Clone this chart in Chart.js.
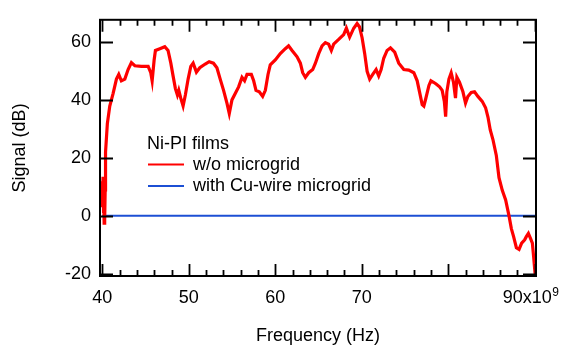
<!DOCTYPE html>
<html>
<head>
<meta charset="utf-8">
<script src="https://cdn.jsdelivr.net/npm/chart.js@4.4.1/dist/chart.umd.min.js"></script>
<style>
  html, body { margin: 0; padding: 0; background: #ffffff; }
  canvas { display: block; }
</style>
</head>
<body>
<canvas id="c" width="565" height="351"></canvas>
<script>
// ---------- data ----------
const freqRed = [39.98, 40.03, 40.08, 40.12, 40.17, 40.21, 40.25, 40.29, 40.33, 40.37,
  40.58, 40.86, 41.24, 41.63, 41.9, 42.2, 42.6, 42.98, 43.36, 43.76,
  44.52, 45.3, 45.6, 45.76, 45.99, 46.14, 46.65, 47.22, 47.6, 47.92,
  48.18, 48.45, 48.68, 48.84, 49.07, 49.34, 49.6, 49.92, 50.23, 50.5,
  50.88, 51.27, 51.9, 52.35, 52.85, 53.25, 53.63, 54.02, 54.41, 54.68,
  54.99, 55.37, 55.76, 56.15, 56.45, 56.73, 57.23, 57.5, 57.77, 58.15,
  58.54, 58.85, 59.16, 59.42, 60.0, 60.58, 61.16, 61.54, 61.94, 62.52,
  62.9, 63.17, 63.48, 63.86, 64.33, 64.64, 65.02, 65.41, 65.79, 66.17,
  66.48, 66.75, 67.33, 67.91, 68.22, 68.6, 69.07, 69.46, 69.73, 70.04,
  70.34, 70.62, 70.92, 71.27, 71.66, 71.96, 72.24, 72.54, 72.93, 73.32,
  73.81, 74.28, 74.86, 75.44, 76.02, 76.41, 76.68, 76.99, 77.18, 77.4,
  77.77, 78.0, 78.3, 78.6, 79.0, 79.3, 79.55, 79.7, 79.84, 80.08,
  80.34, 80.61, 80.84, 81.0, 81.3, 81.7, 82.0, 82.27, 82.66, 83.04,
  83.43, 83.93, 84.32, 84.6, 84.86, 85.17, 85.56, 85.87, 86.25, 86.64,
  87.03, 87.3, 87.56, 87.88, 88.19, 88.49, 88.84, 89.03, 89.27, 89.5,
  89.73, 89.88, 90.04, 90.12];
const sigRed = [12, 3, 13.5, 1, 9, -2.5, 4, -1.5, 9, 22,
  31.9, 38, 42.3, 47.3, 48.9, 46.7, 47.3, 50.6, 53, 51.9,
  51.7, 51.7, 49.5, 46.7, 53.9, 57.2, 57.8, 58.5, 57.2, 52.8,
  48.4, 44, 41.8, 43.4, 40.7, 38, 41.8, 47.3, 51.7, 52.8,
  49.7, 51.2, 52.5, 53.3, 52.8, 51.2, 47.3, 43.4, 39, 35.4,
  40.1, 42.3, 44.6, 47.9, 46.7, 48.9, 48.9, 46.7, 43.4, 42.9,
  41.3, 43.4, 48.9, 52.2, 53.9, 56.1, 57.8, 58.8, 57.2, 55,
  52.8, 49.5, 47.9, 49.5, 50.6, 52.8, 56.1, 58.8, 59.9, 59.4,
  57.2, 59.4, 61, 62.7, 64.9, 61.8, 64.9, 66.5, 65.4, 61.6,
  56.1, 50, 47.3, 48.9, 50.6, 48.4, 50.6, 54.5, 57.2, 58.1,
  56.6, 52.8, 50.6, 50.4, 49.5, 46.7, 42.9, 38.5, 38, 40.5,
  45.1, 46.7, 46.2, 45.6, 44.6, 43.4, 39.6, 34.3, 42.9, 47.3,
  49.5, 46.2, 40.7, 47.9, 46.2, 42.9, 39, 41.3, 42.7, 42.9,
  41.3, 39.6, 37.4, 34.1, 29.7, 26.4, 20.9, 13.2, 8.8, 5.5,
  0, -4.4, -7.2, -11, -11.6, -9.4, -8.3, -7.2, -6.1, -7.7,
  -9.4, -14.3, -19.8, -23];

const freqBlue = [40.0, 45.0, 50.0, 55.0, 60.0, 65.0, 70.0, 75.0, 80.0, 85.0, 90.15];
const sigBlue  = [0, 0, 0, 0, 0, 0, 0, 0, 0, 0, 0];

const seriesNames = ['w/o microgrid', 'with Cu-wire microgrid'];
const legendTitle = 'Ni-PI films';

const xTickVals   = [40, 50, 60, 70, 80, 90];
const xTickLabels = ['40', '50', '60', '70', '', ''];
const xLastLabel  = { value: 90, base: '90x10', sup: '9' };
const yTickVals   = [-20, 0, 20, 40, 60];
const yTickLabels = ['-20', '0', '20', '40', '60'];
const xMinorStep  = 2;

// ---------- styling ----------
const FONT = '"Liberation Sans", Arial, Helvetica, sans-serif';
const fontMain = { family: FONT, size: 18 };
const X_TICK_PAD = 11;
const RED = '#ff0000';
const BLUE = '#1c4fd4';

const toPts = (xs, ys) => xs.map((x, i) => ({ x: x, y: ys[i] }));

const framePlugin = {
  id: 'frameTicks',
  afterDraw(chart) {
    const ctx = chart.ctx;
    const a = chart.chartArea;
    const xs = chart.scales.x, ys = chart.scales.y;
    ctx.save();
    ctx.strokeStyle = '#000';
    // ticks
    ctx.lineWidth = 1.8;
    ctx.beginPath();
    for (let v = 40; v <= 90.001; v += xMinorStep) {
      const px = Math.round(xs.getPixelForValue(v)) + 0.5;
      const major = (Math.round(v) % 10 === 0);
      const len = major ? 12 : 6;
      ctx.moveTo(px, a.bottom); ctx.lineTo(px, a.bottom - len);
      ctx.moveTo(px, a.top); ctx.lineTo(px, a.top + len);
    }
    yTickVals.forEach(v => {
      const py = Math.round(ys.getPixelForValue(v)) + 0.5;
      ctx.moveTo(a.left, py); ctx.lineTo(a.left + 13, py);
      ctx.moveTo(a.right, py); ctx.lineTo(a.right - 13, py);
    });
    ctx.stroke();
    // frame
    ctx.lineWidth = 2;
    ctx.strokeRect(a.left, a.top, a.right - a.left, a.bottom - a.top);

    // last x label with superscript exponent
    const lx = xs.getPixelForValue(xLastLabel.value);
    const ly = a.bottom + X_TICK_PAD + fontMain.size * 1.2 / 2;
    ctx.fillStyle = '#000';
    ctx.font = fontMain.size + 'px ' + FONT;
    ctx.textBaseline = 'middle';
    ctx.textAlign = 'left';
    const w1 = ctx.measureText(xLastLabel.base).width;
    const sx = lx - 32;
    ctx.fillText(xLastLabel.base, sx, ly);
    ctx.font = '12px ' + FONT;
    ctx.textBaseline = 'alphabetic';
    ctx.fillText(xLastLabel.sup, sx + w1 + 0.5, ly - 2);

    // legend
    const ds = chart.data.datasets;
    ctx.font = fontMain.size + 'px ' + FONT;
    ctx.textBaseline = 'middle';
    ctx.textAlign = 'left';
    ctx.fillText(legendTitle, 147, 144);
    const rows = [164.5, 186];
    ds.forEach((d, i) => {
      ctx.strokeStyle = d.borderColor;
      ctx.lineWidth = 2;
      ctx.beginPath();
      ctx.moveTo(148, rows[i]); ctx.lineTo(184, rows[i]);
      ctx.stroke();
      ctx.fillStyle = '#000';
      ctx.fillText(d.label, 193, rows[i] + 0.5);
    });
    ctx.restore();
  }
};

new Chart(document.getElementById('c'), {
  type: 'scatter',
  data: {
    datasets: [
      { label: seriesNames[0], data: toPts(freqRed, sigRed), showLine: true,
        borderColor: RED, backgroundColor: RED, borderWidth: 3.2, pointRadius: 0, tension: 0 },
      { label: seriesNames[1], data: toPts(freqBlue, sigBlue), showLine: true,
        borderColor: BLUE, backgroundColor: BLUE, borderWidth: 2, pointRadius: 0, tension: 0 }
    ]
  },
  options: {
    responsive: false,
    animation: false,
    devicePixelRatio: 1,
    layout: { padding: { left: 0, right: 29, top: 7, bottom: 0 } },
    plugins: { legend: { display: false }, tooltip: { enabled: false } },
    scales: {
      x: {
        type: 'linear', min: 39.73, max: 90.15,
        afterFit: s => { s.height = 75; },
        afterBuildTicks: s => { s.ticks = xTickVals.map(v => ({ value: v })); },
        grid: { display: false, drawTicks: false },
        border: { display: false },
        ticks: {
          padding: X_TICK_PAD, font: fontMain, color: '#000', maxRotation: 0, autoSkip: false,
          callback: v => { const i = xTickVals.indexOf(v); return i >= 0 ? xTickLabels[i] : ''; }
        },
        title: { display: true, text: 'Frequency (Hz)', font: fontMain, color: '#000',
                 padding: { top: 0, bottom: 4 } }
      },
      y: {
        type: 'linear', min: -20.8, max: 67.8,
        afterFit: s => { s.width = 100; },
        afterBuildTicks: s => { s.ticks = yTickVals.map(v => ({ value: v })); },
        grid: { display: false, drawTicks: false },
        border: { display: false },
        ticks: {
          padding: 9, font: fontMain, color: '#000', autoSkip: false,
          callback: v => { const i = yTickVals.indexOf(v); return i >= 0 ? yTickLabels[i] : ''; }
        },
        title: { display: true, text: 'Signal (dB)', font: fontMain, color: '#000',
                 padding: { top: 9, bottom: 0 } }
      }
    }
  },
  plugins: [framePlugin]
});
</script>
</body>
</html>
